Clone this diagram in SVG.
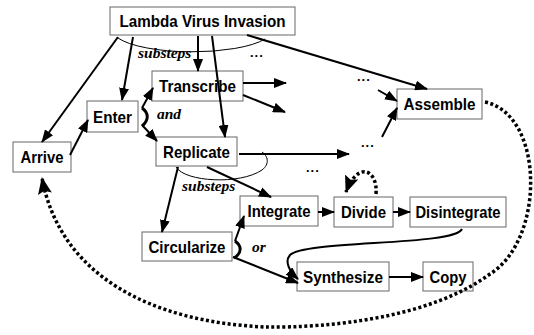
<svg xmlns="http://www.w3.org/2000/svg" width="534" height="335" viewBox="0 0 534 335">
<style>
.box{fill:#fff;stroke:#666;stroke-width:1}
.lbl{font-family:"Liberation Sans",Arial,sans-serif;font-weight:bold;font-size:17px;text-anchor:middle;fill:#000}
.it{font-family:"Liberation Serif","Times New Roman",serif;font-style:italic;font-weight:bold;font-size:15.5px;fill:#000}
.dots{font-family:"Liberation Sans",Arial,sans-serif;font-weight:bold;font-size:13px;letter-spacing:1px;fill:#000}
.e{fill:none;stroke:#000;stroke-width:2}
.thin{fill:none;stroke:#000;stroke-width:1}
.br{fill:none;stroke:#000;stroke-width:3}
.dot{fill:none;stroke:#000;stroke-width:3.5;stroke-dasharray:3 2.5}
</style>
<defs>
<marker id="ah" markerUnits="userSpaceOnUse" markerWidth="13" markerHeight="10" refX="12" refY="5" orient="auto">
<path d="M0,0 L13,5 L0,10 z" fill="#000"/>
</marker>
<marker id="bh" markerUnits="userSpaceOnUse" markerWidth="17" markerHeight="14" refX="16" refY="7" orient="auto">
<path d="M0,0 L17,7 L0,14 L3,7 z" fill="#000"/>
</marker>
</defs>
<g id="n-lambda"><rect class="box" x="110" y="7" width="185" height="28"/><text class="lbl" x="202.5" y="27" textLength="166" lengthAdjust="spacingAndGlyphs">Lambda Virus Invasion</text></g>
<g id="n-transcribe"><rect class="box" x="152" y="71" width="91" height="30"/><text class="lbl" x="197.5" y="92" textLength="77" lengthAdjust="spacingAndGlyphs">Transcribe</text></g>
<g id="n-enter"><rect class="box" x="87" y="101" width="51" height="31"/><text class="lbl" x="112.5" y="123" textLength="39" lengthAdjust="spacingAndGlyphs">Enter</text></g>
<g id="n-replicate"><rect class="box" x="156" y="137" width="81" height="29"/><text class="lbl" x="196.5" y="158" textLength="67" lengthAdjust="spacingAndGlyphs">Replicate</text></g>
<g id="n-arrive"><rect class="box" x="13" y="142" width="58" height="30"/><text class="lbl" x="42" y="163" textLength="43" lengthAdjust="spacingAndGlyphs">Arrive</text></g>
<g id="n-assemble"><rect class="box" x="397" y="89" width="85" height="30"/><text class="lbl" x="439.5" y="110" textLength="72" lengthAdjust="spacingAndGlyphs">Assemble</text></g>
<g id="n-integrate"><rect class="box" x="240" y="196" width="78" height="30"/><text class="lbl" x="279" y="217" textLength="63" lengthAdjust="spacingAndGlyphs">Integrate</text></g>
<g id="n-divide"><rect class="box" x="334" y="197" width="59" height="30"/><text class="lbl" x="363.5" y="218" textLength="45" lengthAdjust="spacingAndGlyphs">Divide</text></g>
<g id="n-disintegrate"><rect class="box" x="410" y="197" width="96" height="30"/><text class="lbl" x="458" y="218" textLength="85" lengthAdjust="spacingAndGlyphs">Disintegrate</text></g>
<g id="n-circularize"><rect class="box" x="142" y="232" width="90" height="29"/><text class="lbl" x="187" y="253" textLength="77" lengthAdjust="spacingAndGlyphs">Circularize</text></g>
<g id="n-synthesize"><rect class="box" x="297" y="262" width="92" height="29"/><text class="lbl" x="343" y="283" textLength="80" lengthAdjust="spacingAndGlyphs">Synthesize</text></g>
<g id="n-copy"><rect class="box" x="423" y="262" width="50" height="29"/><text class="lbl" x="448" y="283" textLength="37" lengthAdjust="spacingAndGlyphs">Copy</text></g>
<g id="connectors">
<path class="thin" d="M118,38 A80,22 0 0 0 265,39"/>
<path class="thin" d="M176,167 C185,182 240,185 262,170 C270,164 268,156 262,152"/>
<path class="e" d="M118,37 L42,142" marker-end="url(#ah)"/>
<path class="e" d="M133,37 L122,100" marker-end="url(#ah)"/>
<path class="e" d="M198,36 L198,71" marker-end="url(#ah)"/>
<path class="e" d="M212,36 L225,137" marker-end="url(#ah)"/>
<path class="e" d="M247,35 L427,89" marker-end="url(#ah)"/>
<path class="e" d="M243,83 L286,83" marker-end="url(#ah)"/>
<path class="e" d="M243,95 L285,112" marker-end="url(#ah)"/>
<path class="e" d="M378,90 L397,101" marker-end="url(#ah)"/>
<path class="e" d="M382,137 L397,108" marker-end="url(#ah)"/>
<path class="e" d="M239,154 L349,154" marker-end="url(#ah)"/>
<path class="e" d="M70,155 L88,120" marker-end="url(#ah)"/>
<path class="e" d="M142,108 L153,88" marker-end="url(#ah)"/>
<path class="e" d="M142,125 L157,141" marker-end="url(#ah)"/>
<path class="br" d="M142,108 C149,113 149,120 142,126"/>
<path class="e" d="M178,167 L162,232" marker-end="url(#ah)"/>
<path class="e" d="M207,167 L271,197" marker-end="url(#ah)"/>
<path class="e" d="M235,241 L244,216" marker-end="url(#ah)"/>
<path class="e" d="M233,257 L298,283" marker-end="url(#ah)"/>
<path class="br" d="M235,241 C242,246 242,253 234,258"/>
<path class="e" d="M318,212 L334,212" marker-end="url(#ah)"/>
<path class="e" d="M393,212 L410,212" marker-end="url(#ah)"/>
<path class="e" d="M389,277 L423,277" marker-end="url(#ah)"/>
<path class="e" d="M462,229 C455,246 305,240 290,255 C284,262 290,272 298,279" marker-end="url(#ah)"/>
<path class="dot" d="M376,194 C378,170 358,160 346,192" marker-end="url(#bh)"/>
<path class="dot" d="M485,102 C545,115 545,240 490,274 C430,318 330,328 265,327 C150,322 60,275 42,178" marker-end="url(#bh)"/>
</g>
<g id="labels">
<text class="it" x="138" y="58">substeps</text>
<text class="it" x="182" y="191">substeps</text>
<text class="it" x="157" y="119">and</text>
<text class="it" x="252" y="252">or</text>
<text class="dots" x="250" y="57">...</text>
<text class="dots" x="357" y="81">...</text>
<text class="dots" x="361" y="147">...</text>
<text class="dots" x="306" y="172">...</text>
</g>
</svg>
